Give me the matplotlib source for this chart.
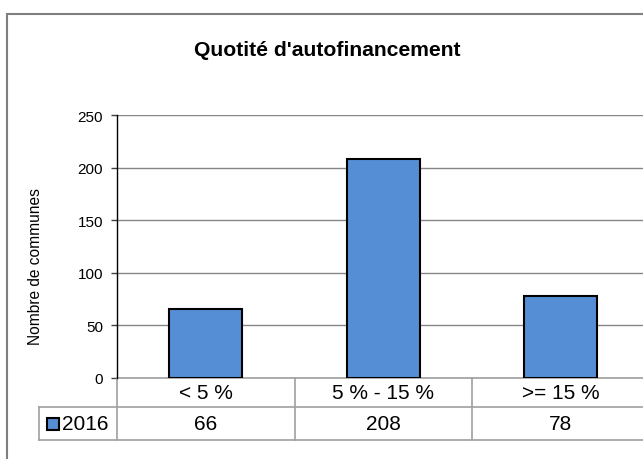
import matplotlib
matplotlib.use("Agg")
import matplotlib.pyplot as plt
from matplotlib.patches import Rectangle
from matplotlib.lines import Line2D
from matplotlib.transforms import blended_transform_factory

plt.rcParams['font.family'] = ['Liberation Sans', 'DejaVu Sans']

categories = ["< 5 %", "5 % - 15 %", ">= 15 %"]
series_name = "2016"
values = [66, 208, 78]
y_ticks = [0, 50, 100, 150, 200, 250]

bar_color = "#558ED5"
grid_color = "#868686"
table_color = "#A0A0A0"

W, H = 643, 460
fig = plt.figure(figsize=(W / 100, H / 100), dpi=100)

# plot area in pixel terms
left_px, right_px = 117, 649.5
top_px, bottom_px = 116, 379
ax = fig.add_axes([left_px / W, 1 - bottom_px / H,
                   (right_px - left_px) / W, (bottom_px - top_px) / H])

x = list(range(len(categories)))
ax.bar(x, values, width=0.41, color=bar_color, edgecolor="black",
       linewidth=1.5, zorder=3)
ax.set_xlim(-0.5, len(categories) - 0.5)
ax.set_ylim(0, 250)
ax.set_yticks(y_ticks)
ax.set_yticklabels([str(t) for t in y_ticks], fontsize=11)
ax.tick_params(axis='y', length=4, width=1, pad=6, color="#404040")
ax.set_xticks([])
ax.yaxis.grid(True, color=grid_color, linewidth=1.0, zorder=0)
ax.set_axisbelow(True)
for s in ["top", "right", "bottom"]:
    ax.spines[s].set_visible(False)
ax.spines["left"].set_color("black")
ax.spines["left"].set_linewidth(1.0)

# outer chart frame
fig.patches.append(Rectangle((7 / W, -0.2), 1.2, 1.2 - 15 / H,
                             transform=fig.transFigure, fill=False,
                             edgecolor="#7F7F7F", linewidth=1.5))

fig.text(327.5 / W, 1 - 50 / H, "Quotité d'autofinancement",
         ha="center", va="center", fontsize=15.2, fontweight="bold")
fig.text(36 / W, 1 - 267 / H, "Nombre de communes", rotation=90,
         ha="center", va="center", fontsize=11.2)

# data table under the axis
ax_h = bottom_px - top_px
ax_w = right_px - left_px
r1 = -29 / ax_h
r2 = -62 / ax_h
legend_left = (39 - left_px) / ax_w
n = len(categories)
tr = blended_transform_factory(ax.transData, ax.transAxes)
ta = ax.transAxes

def hline(x0, x1, y, transform):
    ax.add_line(Line2D([x0, x1], [y, y], transform=transform, color=table_color,
                       linewidth=1.2, clip_on=False))

def vline(xv, y0, y1, transform):
    ax.add_line(Line2D([xv, xv], [y0, y1], transform=transform, color=table_color,
                       linewidth=1.2, clip_on=False))

hline(-0.5, n - 0.5, 0, tr)
hline(legend_left, 1, r1, ta)
hline(legend_left, 1, r2, ta)
vline(legend_left, r1, r2, ta)
for i in range(n + 1):
    vline(i - 0.5, 0, r2, tr)

for i, (c, v) in enumerate(zip(categories, values)):
    ax.text(i, r1 / 2, c, transform=tr, ha="center", va="center",
            fontsize=15, clip_on=False)
    ax.text(i, (r1 + r2) / 2, str(v), transform=tr, ha="center", va="center",
            fontsize=15, clip_on=False)

# legend key in the table's row header
key_x = (47 - left_px) / ax_w
key_w = 12 / ax_w
key_h = 12 / ax_h
key_y = (r1 + r2) / 2 - key_h / 2
ax.add_patch(Rectangle((key_x, key_y), key_w, key_h, transform=ta,
                       facecolor=bar_color, edgecolor="black", linewidth=1.5,
                       clip_on=False))
ax.text((62 - left_px) / ax_w, (r1 + r2) / 2, series_name, transform=ta,
        ha="left", va="center", fontsize=15, clip_on=False)

fig.savefig("out.png", dpi=100)
